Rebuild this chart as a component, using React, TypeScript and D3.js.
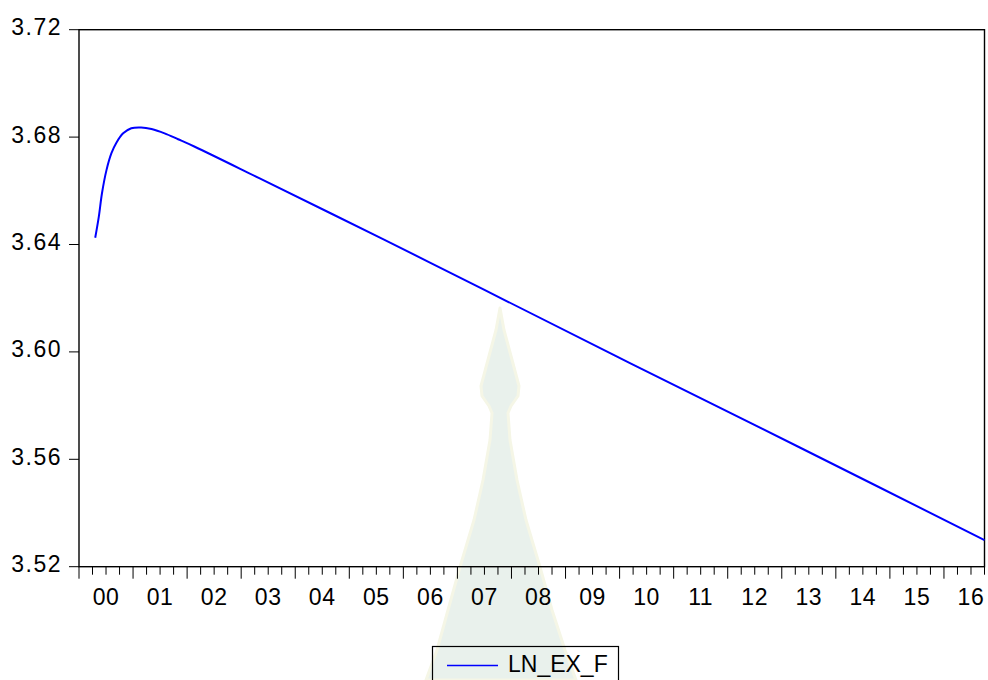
import React from 'react';
import * as d3 from 'd3';

// observation position in months counted from 2000M1, and the series value read there
const obsMonths = [3.6, 4.4, 5.1, 6.1, 7.2, 8.3, 9.8, 11.6, 13.8, 16.1, 19.0, 22.0, 25.7, 40, 67.6, 90, 122.3, 160, 201];
const lnExF = [3.6425, 3.6504, 3.6591, 3.6677, 3.674, 3.6779, 3.6814, 3.6833, 3.6836, 3.683, 3.6814, 3.6792, 3.6764, 3.6647, 3.6419, 3.6231, 3.5958, 3.5644, 3.5299];

const yTicks = [3.52, 3.56, 3.6, 3.64, 3.68, 3.72];
const yearLabels = ['00', '01', '02', '03', '04', '05', '06', '07', '08', '09', '10', '11', '12', '13', '14', '15', '16'];
const seriesName = 'LN_EX_F';

const FONT = '"Liberation Sans", Arial, Helvetica, sans-serif';

export default function App() {
    const width = 988;
    const height = 680;
    const plot = { left: 79, right: 984.5, top: 29.7, bottom: 566.7 };

    const x = d3.scaleLinear().domain([0, 201]).range([plot.left, plot.right]);
    const y = d3.scaleLinear().domain([3.52, 3.72]).range([plot.bottom, plot.top]);

    const line = d3.line<number>()
        .x((_, i) => x(obsMonths[i]))
        .y((d) => y(d))
        .curve(d3.curveCatmullRom.alpha(0.5));

    // quarterly ticks, long ones at the start of each year
    const qTicks = d3.range(0, 202, 3);

    // faint background watermark (logo) behind the plot
    const mark = 'M500,308 L504,330 L511,356 L519,386 L518,396 L511,406 L508,413 L510,440 L517,480 L526,520 L540,567 L552,610 L565,650 L576,680 L426,680 L437,650 L448,610 L460,567 L474,520 L483,480 L490,440 L492,413 L489,406 L482,396 L481,386 L489,356 L496,330 Z';

    return (
        <svg width={width} height={height} style={{ position: 'absolute', left: 0, top: 0, background: '#fff' }}>
            <path d={mark} fill="#e9f1ec" stroke="#f5f6e6" strokeWidth={3} strokeLinejoin="round" />

            {/* frame */}
            <rect x={plot.left} y={plot.top} width={plot.right - plot.left} height={plot.bottom - plot.top}
                fill="none" stroke="#000" strokeWidth={1.4} />

            {/* y axis */}
            {yTicks.map((t) => (
                <g key={t}>
                    <line x1={plot.left - 10} x2={plot.left} y1={y(t)} y2={y(t)} stroke="#000" strokeWidth={1} />
                    <text x={62} y={y(t) + 5.5} textAnchor="end" fontFamily={FONT} fontSize={23}
                        letterSpacing={1.5} fill="#000">
                        {d3.format('.2f')(t)}
                    </text>
                </g>
            ))}

            {/* x axis */}
            {qTicks.map((m) => (
                <line key={m} x1={x(m)} x2={x(m)} y1={plot.bottom} y2={plot.bottom + (m % 12 === 0 ? 12 : 8)}
                    stroke="#000" strokeWidth={1} />
            ))}
            {yearLabels.map((lab, i) => (
                <text key={lab} x={x(i * 12 + 6)} y={605} textAnchor="middle" fontFamily={FONT} fontSize={23}
                    letterSpacing={0.6} fill="#000">
                    {lab}
                </text>
            ))}

            {/* series */}
            <path d={line(lnExF) || ''} fill="none" stroke="#0000ff" strokeWidth={2} />

            {/* legend */}
            <rect x={432.5} y={646.5} width={186} height={60} fill="none" stroke="#000" strokeWidth={1.2} />
            <line x1={447} x2={498} y1={665.5} y2={665.5} stroke="#0000ff" strokeWidth={1.5} />
            <text x={508} y={672} fontFamily={FONT} fontSize={23} fill="#000">{seriesName}</text>
        </svg>
    );
}
